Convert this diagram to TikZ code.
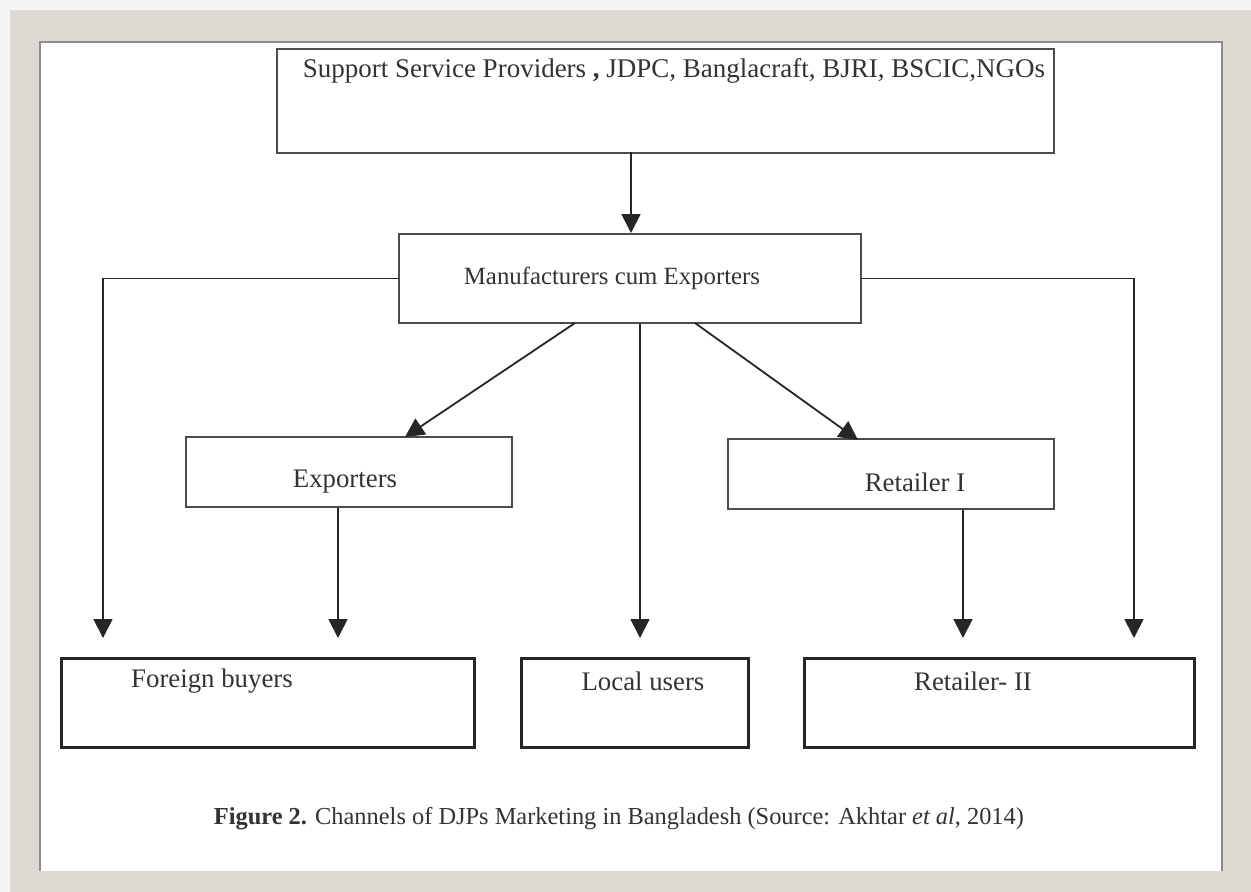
\documentclass[tikz,border=0pt]{standalone}
\usepackage{fontspec}
\setmainfont{Liberation Serif}
\usetikzlibrary{arrows.meta}
\begin{document}
\begin{tikzpicture}[x=1pt,y=-1pt,
  boxA/.style={draw=black!70,line width=1.8pt,minimum width=#1,inner sep=0pt},
  lbl/.style={font=\fontsize{26.8}{30}\selectfont,text=black!80,inner sep=0pt},
  arr/.style={line width=1.8pt,draw=black!85,-{Triangle[length=19pt,width=19pt]}}]
\useasboundingbox (0,0) rectangle (1251,892);
\fill[gray!8] (0,0) rectangle (1251,892);
\fill[fill={rgb,255:red,220;green,217;blue,210}] (10,10) rectangle (1251,892);
\fill[white] (40,42) rectangle (1222,871);
\draw[black!45,line width=1.2pt] (40,871) -- (40,42) -- (1222,42) -- (1222,871);
% boxes
\node[boxA=777pt,minimum height=104pt,anchor=north west] (sp) at (276,48) {};
\node[boxA=462pt,minimum height=89pt,anchor=north west] (me) at (398,233) {};
\node[boxA=326pt,minimum height=70pt,anchor=north west] (ex) at (185,436) {};
\node[boxA=326pt,minimum height=70pt,anchor=north west] (r1) at (727,438) {};
\node[boxA=413pt,minimum height=89pt,anchor=north west,draw=black!85,line width=2.6pt] (fb) at (60,657) {};
\node[boxA=227pt,minimum height=89pt,anchor=north west,draw=black!85,line width=2.6pt] (lu) at (520,657) {};
\node[boxA=390pt,minimum height=89pt,anchor=north west,draw=black!85,line width=2.6pt] (r2) at (803,657) {};
% texts
\node[lbl,font=\fontsize{27}{30}\selectfont] (tsp) at (674,71) {Support Service Providers \textbf{,} JDPC, Banglacraft, BJRI, BSCIC,NGOs};
\node[lbl,font=\fontsize{24.8}{28}\selectfont] (tme) at (612,278) {Manufacturers cum Exporters};
\node[lbl] (tex) at (345,482) {Exporters};
\node[lbl] (tr1) at (915,482) {Retailer I};
\node[lbl] (tfb) at (212,681) {Foreign buyers};
\node[lbl] (tlu) at (643,681) {Local users};
\node[lbl] (tr2) at (973,681) {Retailer- II};
\node[lbl,font=\fontsize{24.4}{28}\selectfont] (cap) at (619,819) {\textbf{Figure 2.} Channels of DJPs Marketing in Bangladesh (Source: Akhtar \textit{et al}, 2014)};
% connector end coordinates
\coordinate (eL) at (103,638);
\coordinate (eR) at (1134,638);
\coordinate (eC) at (640,638);
\coordinate (eE) at (338,638);
\coordinate (eR1) at (963,638);
\coordinate (sMe) at (631,152);
\coordinate (dl0) at (575,323);
\coordinate (dl1) at (405,437);
\coordinate (dr0) at (695,323);
\coordinate (dr1) at (858,440);
% connectors
\draw[arr] (sMe) -- (sMe |- me.north);
\draw[arr] (me.west) -| (eL);
\draw[arr] (me.east) -| (eR);
\draw[arr] (eC |- me.south) -- (eC);
\draw[arr] (dl0) -- (dl1);
\draw[arr] (dr0) -- (dr1);
\draw[arr] (eE |- ex.south) -- (eE);
\draw[arr] (eR1 |- r1.south) -- (eR1);
\end{tikzpicture}
\end{document}
